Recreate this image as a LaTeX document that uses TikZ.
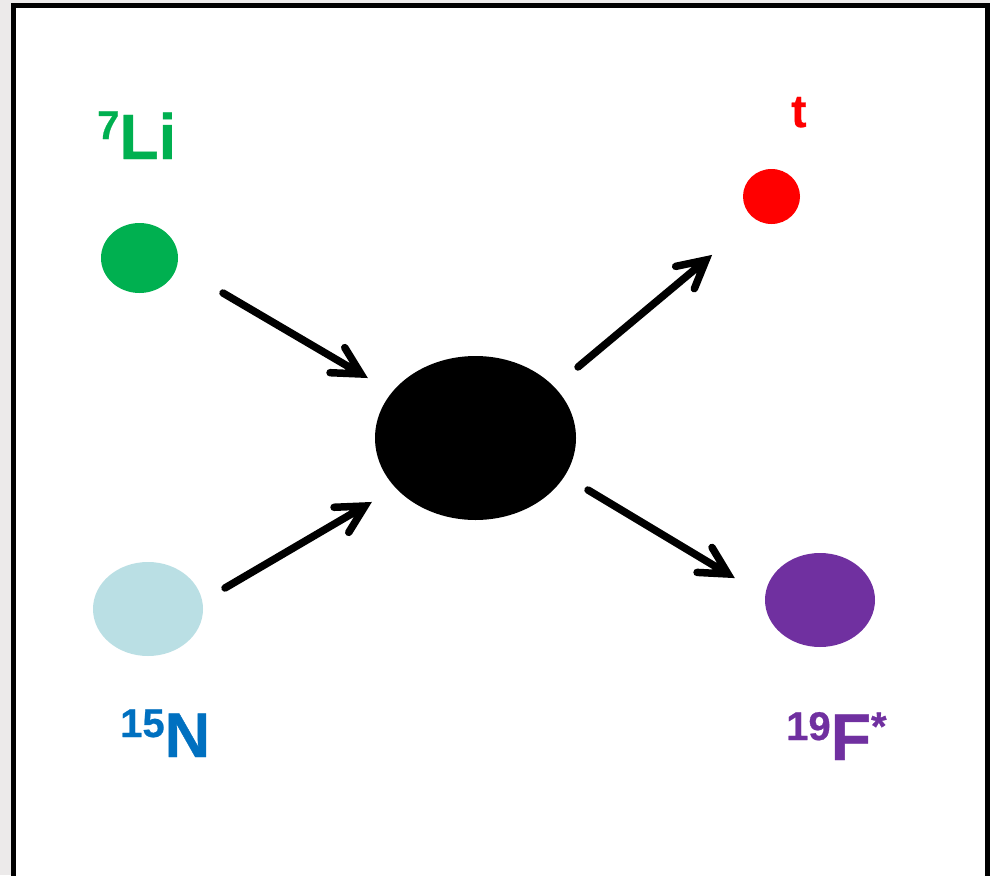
\documentclass[tikz,border=0pt]{standalone}
\usepackage{fontspec}
\setmainfont{Liberation Sans}
\newfontfamily\lblfont{Liberation Sans Bold}[FakeBold=0.6]
\usetikzlibrary{shapes.geometric,calc}
\definecolor{ligreen}{HTML}{00B050}
\definecolor{nblue}{HTML}{0070C0}
\definecolor{nlight}{HTML}{BADFE4}
\definecolor{fpurple}{HTML}{7030A0}
\definecolor{outbg}{HTML}{ECEAEA}
\tikzset{
  particle/.style={ellipse, inner sep=0pt, draw=none},
  lbl/.style={anchor=base west, inner sep=0pt},
  flow/.style={line width=7.5pt, line cap=round, line join=miter, miter limit=10}
}
\newcommand{\supsz}[1]{{\fontsize{40}{40}\lblfont\raisebox{20pt}{#1}}}
\newcommand{\bigsz}[2]{{\fontsize{#1}{#1}\lblfont #2}}
\newcommand{\flowarrow}[2]{%
  \draw[flow] (#1) -- (#2)
    ($(#2)!31pt!28:(#1)$) -- (#2) -- ($(#2)!31pt!-28:(#1)$);}
\begin{document}
\begin{tikzpicture}[x=1pt,y=-1pt]
\useasboundingbox (0,0) rectangle (990,875);
\fill[outbg] (0,0) rectangle (990,875);
\fill[white] (13.5,5.5) rectangle (987,880);
\draw[line width=5pt] (13.5,885) -- (13.5,5.5) -- (987,5.5) -- (987,885);

\node[particle, fill=ligreen, minimum width=77pt, minimum height=70pt] (li) at (139.5,258) {};
\node[particle, fill=nlight, minimum width=110pt, minimum height=94pt] (n) at (148,609) {};
\node[particle, fill=black, minimum width=201pt, minimum height=164pt] (c) at (475.5,438) {};
\node[particle, fill=red, minimum width=57pt, minimum height=55pt] (t) at (771.5,196.5) {};
\node[particle, fill=fpurple, minimum width=110pt, minimum height=94pt] (f) at (820,600) {};

\node[lbl, text=ligreen] (lilbl) at (97,159) {\supsz{7}\bigsz{64}{Li}};
\node[lbl, text=nblue] (nlbl) at (120,757) {\supsz{15}\bigsz{63}{N}};
\node[lbl, text=fpurple] (flbl) at (786,760) {\supsz{19}\bigsz{66}{F}\supsz{*}};
\node[lbl, text=red] (tlbl) at (791,127) {\bigsz{46}{t}};

\coordinate (a1s) at (223,293); \coordinate (a1e) at (361,374);
\coordinate (a2s) at (225,588); \coordinate (a2e) at (365,506);
\coordinate (a3s) at (578,367); \coordinate (a3e) at (706,260);
\coordinate (a4s) at (588,490); \coordinate (a4e) at (728,574);
\flowarrow{a1s}{a1e}
\flowarrow{a2s}{a2e}
\flowarrow{a3s}{a3e}
\flowarrow{a4s}{a4e}
\end{tikzpicture}
\end{document}
